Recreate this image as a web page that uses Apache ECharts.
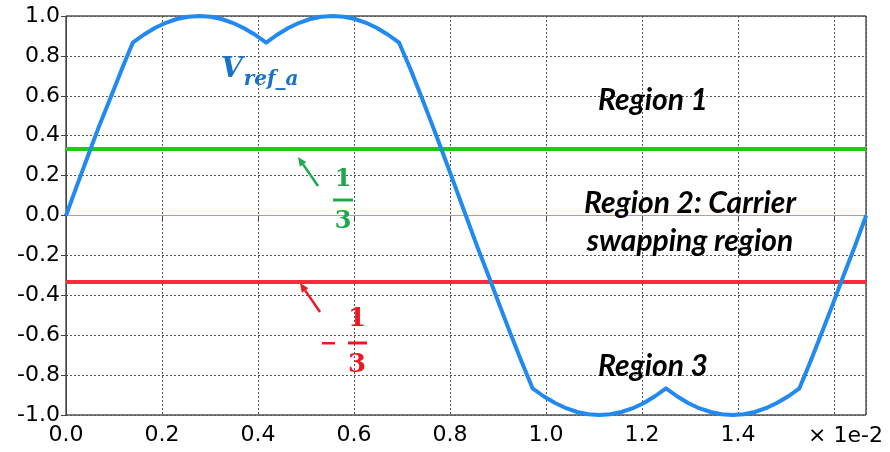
<!DOCTYPE html>
<html>
<head>
<meta charset="utf-8">
<script src="https://cdn.jsdelivr.net/npm/echarts@6/dist/echarts.min.js"></script>
<style>
  html, body { margin: 0; padding: 0; background: #fff; }
  #chart { width: 890px; height: 452px; }
</style>
</head>
<body>
<div id="chart"></div>
<script>
// Time axis, in units of 1e-2 s (one 60 Hz period)
const timeAxis = [
  0.000, 0.023, 0.046, 0.069, 0.093, 0.116, 0.139, 0.162, 0.185, 0.208,
  0.231, 0.255, 0.278, 0.301, 0.324, 0.347, 0.370, 0.394, 0.417, 0.440,
  0.463, 0.486, 0.509, 0.532, 0.556, 0.579, 0.602, 0.625, 0.648, 0.671,
  0.694, 0.718, 0.741, 0.764, 0.787, 0.810, 0.833, 0.856, 0.880, 0.903,
  0.926, 0.949, 0.972, 0.995, 1.019, 1.042, 1.065, 1.088, 1.111, 1.134,
  1.157, 1.181, 1.204, 1.227, 1.250, 1.273, 1.296, 1.319, 1.343, 1.366,
  1.389, 1.412, 1.435, 1.458, 1.481, 1.505, 1.528, 1.551, 1.574, 1.597,
  1.620, 1.644, 1.667
];

// Normalised phase-a reference voltage
const vRefA = [
   0.000,  0.151,  0.301,  0.448,  0.592,  0.732,  0.866,  0.906,  0.940,  0.966,
   0.985,  0.996,  1.000,  0.996,  0.985,  0.966,  0.940,  0.906,  0.866,  0.906,
   0.940,  0.966,  0.985,  0.996,  1.000,  0.996,  0.985,  0.966,  0.940,  0.906,
   0.866,  0.732,  0.592,  0.448,  0.301,  0.151,  0.000, -0.151, -0.301, -0.448,
  -0.592, -0.732, -0.866, -0.906, -0.940, -0.966, -0.985, -0.996, -1.000, -0.996,
  -0.985, -0.966, -0.940, -0.906, -0.866, -0.906, -0.940, -0.966, -0.985, -0.996,
  -1.000, -0.996, -0.985, -0.966, -0.940, -0.906, -0.866, -0.732, -0.592, -0.448,
  -0.301, -0.151,  0.000
];

// Region boundary levels
const upperLevel = 1 / 3;
const lowerLevel = -1 / 3;
const zeroLevel = 0;
const timeEnd = 1.6667;

const xTickLabels = ['0.0', '0.2', '0.4', '0.6', '0.8', '1.0', '1.2', '1.4'];
const yTickLabels = ['-1.0', '-0.8', '-0.6', '-0.4', '-0.2', '0.0', '0.2', '0.4', '0.6', '0.8', '1.0'];

const curvePoints = timeAxis.map((t, i) => [t, vRefA[i]]);
const levelLine = (v) => [[0, v], [timeEnd, v]];

const BLUE = '#2189f0';
const GREEN_LINE = '#22c814';
const RED_LINE = '#ff2a3c';
const GREEN_TXT = '#1ea84e';
const RED_TXT = '#f01820';
const FONT = '"DejaVu Sans", Verdana, sans-serif';
const REGION_FONT = 'Lato, "Open Sans", sans-serif';
const MATH_FONT = '"DejaVu Serif", "Liberation Serif", serif';

const chart = echarts.init(document.getElementById('chart'), null, { renderer: 'canvas' });

function arrow(x1, y1, x2, y2, color) {
  // shaft from (x1,y1) to tip (x2,y2) with a filled head
  const ang = Math.atan2(y2 - y1, x2 - x1);
  const len = 9, half = 4;
  const bx = x2 - len * Math.cos(ang), by = y2 - len * Math.sin(ang);
  const px = -Math.sin(ang) * half, py = Math.cos(ang) * half;
  return [
    { type: 'line', shape: { x1: x1, y1: y1, x2: bx, y2: by }, style: { stroke: color, lineWidth: 2.5 }, z: 100 },
    { type: 'polygon', shape: { points: [[x2, y2], [bx + px, by + py], [bx - px, by - py]] }, style: { fill: color }, z: 100 }
  ];
}

function txt(x, y, text, font, color, align) {
  return {
    type: 'text', x: x, y: y, z: 100,
    style: { text: text, font: font, fill: color, align: align || 'center', verticalAlign: 'middle' }
  };
}

const graphics = [
  txt(883, 436, '× 1e-2', '22px ' + FONT, '#000', 'right'),
  // region labels
  txt(653, 100, 'Region 1', 'italic bold 30px ' + REGION_FONT, '#000'),
  txt(690, 203, 'Region 2: Carrier', 'italic bold 30px ' + REGION_FONT, '#000'),
  txt(690, 241, 'swapping region', 'italic bold 30px ' + REGION_FONT, '#000'),
  txt(653, 366, 'Region 3', 'italic bold 30px ' + REGION_FONT, '#000'),
  // reference label
  {
    type: 'text', x: 221, y: 84, z: 100,
    style: {
      text: '{v|V}{s|ref_a}',
      fill: '#1a72c6',
      align: 'left', verticalAlign: 'bottom',
      rich: {
        v: { font: 'italic bold 28px ' + MATH_FONT, fill: '#1a72c6', verticalAlign: 'bottom' },
        s: { font: 'italic bold 20px ' + MATH_FONT, fill: '#1a72c6', verticalAlign: 'bottom', padding: [0, 0, -6, 1] }
      }
    }
  },
  // +1/3 fraction
  txt(343, 180, '1', 'bold 24px ' + MATH_FONT, GREEN_TXT),
  { type: 'rect', shape: { x: 333, y: 198.5, width: 20, height: 3 }, style: { fill: GREEN_TXT }, z: 100 },
  txt(343, 222, '3', 'bold 24px ' + MATH_FONT, GREEN_TXT),
  // -1/3 fraction
  { type: 'rect', shape: { x: 322, y: 342, width: 13, height: 2.5 }, style: { fill: RED_TXT }, z: 100 },
  txt(357, 319, '1', 'bold 26px ' + MATH_FONT, RED_TXT),
  { type: 'rect', shape: { x: 348, y: 341.5, width: 19, height: 3 }, style: { fill: RED_TXT }, z: 100 },
  txt(357, 365, '3', 'bold 26px ' + MATH_FONT, RED_TXT)
].concat(arrow(318, 186, 298, 157, GREEN_TXT), arrow(320, 312, 300, 283, RED_TXT));

const gridLine = { show: true, lineStyle: { color: '#555', type: [2, 2], width: 1 } };

chart.setOption({
  animation: false,
  backgroundColor: '#fff',
  grid: { left: 66, right: 24, top: 16, bottom: 37, show: true, borderColor: '#000', borderWidth: 1, containLabel: false },
  xAxis: {
    type: 'value', min: 0, max: timeEnd, interval: 0.2,
    axisLine: { show: true, lineStyle: { color: '#444', width: 1 } },
    axisTick: { show: true, length: 5, lineStyle: { color: '#444' } },
    splitLine: gridLine,
    axisLabel: {
      show: true, margin: 9, fontSize: 22, fontFamily: FONT, color: '#000',
      showMaxLabel: false,
      formatter: (v) => {
        const lbl = v.toFixed(1);
        return xTickLabels.indexOf(lbl) >= 0 && Math.abs(v - parseFloat(lbl)) < 1e-6 ? lbl : '';
      }
    }
  },
  yAxis: {
    type: 'value', min: -1, max: 1, interval: 0.2,
    axisLine: { show: true, lineStyle: { color: '#444', width: 1 } },
    axisTick: { show: true, length: 5, lineStyle: { color: '#444' } },
    splitLine: gridLine,
    axisLabel: {
      margin: 6, fontSize: 22, fontFamily: FONT, color: '#000',
      formatter: (v) => {
        const lbl = (Math.abs(v) < 1e-9 ? 0 : v).toFixed(1);
        return yTickLabels.indexOf(lbl) >= 0 ? lbl : '';
      }
    }
  },
  series: [
    { type: 'line', data: levelLine(zeroLevel), symbol: 'none', lineStyle: { color: '#d9a521', width: 1 }, z: 3, silent: true },
    { type: 'line', data: levelLine(upperLevel), symbol: 'none', lineStyle: { color: GREEN_LINE, width: 4 }, z: 4, silent: true },
    { type: 'line', data: levelLine(lowerLevel), symbol: 'none', lineStyle: { color: RED_LINE, width: 4 }, z: 4, silent: true },
    { type: 'line', data: curvePoints, symbol: 'none', lineStyle: { color: BLUE, width: 4, join: 'round' }, z: 5, silent: true }
  ],
  graphic: graphics
});
</script>
</body>
</html>
